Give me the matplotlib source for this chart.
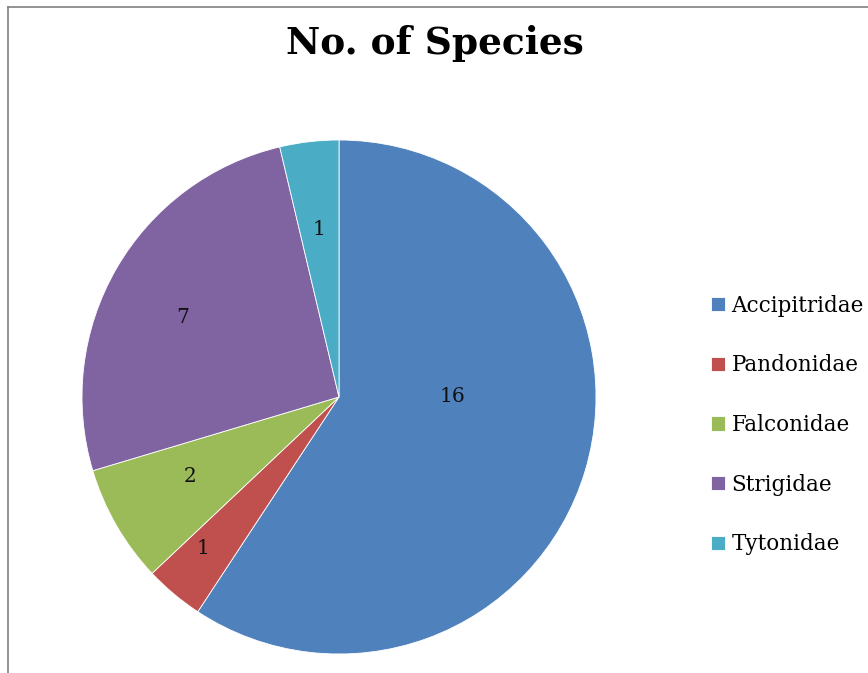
import numpy as np
import matplotlib.pyplot as plt
from matplotlib.lines import Line2D

families = ['Accipitridae', 'Pandonidae', 'Falconidae', 'Strigidae', 'Tytonidae']
species = [16, 1, 2, 7, 1]
colors = ['#4F81BD', '#C0504D', '#9BBB59', '#8064A2', '#4BACC6']

# data label positions (pie units, radius 1), placed like Excel's "best fit"
label_x = [0.44, -0.53, -0.58, -0.61, -0.08]
label_y = [0.00, -0.59, -0.31, 0.31, 0.65]

plt.rcParams['font.family'] = ['DejaVu Serif']

W, H = 868, 673
fig = plt.figure(figsize=(W/100, H/100), dpi=100)

# pie centre (339, 397) px, radius 257 px
cx, cy, r = 339, 397, 257
ax = fig.add_axes([(cx-r)/W, (H-cy-r)/H, 2*r/W, 2*r/H])
wedges, _ = ax.pie(species, colors=colors, startangle=90, counterclock=False,
                   radius=1, wedgeprops=dict(edgecolor='white', linewidth=0.6))
ax.set_xlim(-1, 1)
ax.set_ylim(-1, 1)
ax.set_aspect('equal')

for v, x, y in zip(species, label_x, label_y):
    ax.text(x, y, str(v), ha='center', va='center', fontsize=14.5, color='#111111')

fig.text(435/W, 1 - 43/H, 'No. of Species', ha='center', va='center',
         fontsize=27, fontweight='bold')

leg = fig.legend(wedges, families, loc='center left',
                 bbox_to_anchor=(711/W, 1 - 425/H), frameon=False,
                 fontsize=15.5, handlelength=0.65, handleheight=0.65,
                 handletextpad=0.3, labelspacing=1.75, borderaxespad=0,
                 borderpad=0)

# chart area border (left and top edges visible)
fig.add_artist(Line2D([8/W, 8/W], [0, 1 - 7/H], color='#808080', linewidth=1.2))
fig.add_artist(Line2D([8/W, 1], [1 - 7/H, 1 - 7/H], color='#808080', linewidth=1.2))

plt.savefig('out.png', dpi=100)
